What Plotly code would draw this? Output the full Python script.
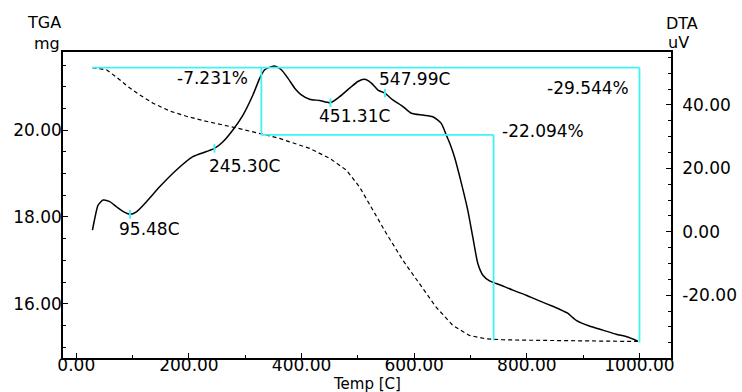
import plotly.graph_objects as go

# ---------------- data ----------------
# TGA (dashed, left axis, mg)
tga_temp = [28.7, 53.6, 74.2, 92, 112.7, 136.3, 166, 195.6, 225, 254.7, 284.3, 313.8,
            328.6, 343.4, 361, 378.9, 414.4, 449.9, 479.5, 503, 526.7, 550.5, 580,
            609.6, 639, 668.7, 698, 728, 757.4, 800, 850, 900, 950, 997]
tga_mg = [21.44, 21.39, 21.19, 21.00, 20.81, 20.62, 20.44, 20.32, 20.22, 20.14, 20.05, 19.96,
          19.91, 19.86, 19.81, 19.73, 19.58, 19.35, 19.08, 18.69, 18.15, 17.62, 17.00,
          16.46, 15.92, 15.50, 15.27, 15.19, 15.17, 15.16, 15.15, 15.15, 15.14, 15.13]

# DTA (solid, right axis, uV)
dta_temp = [28.7, 32.8, 38.7, 47.6, 59.4, 71.3, 86, 95.5, 106.8, 124.6, 148, 177.8, 207, 231,
            245.3, 260.5, 278, 296, 313.8, 325.6, 334.5, 346.4, 352, 364, 376, 387.8, 399.6,
            414.4, 432, 451.3, 467.6, 485.4, 500, 512, 523.9, 535.6, 548, 562, 580, 594.9,
            615.5, 633, 648, 657, 664, 671.7, 683.5, 695, 704, 713, 722, 733.8, 745.7, 757.4,
            775, 799, 822.5, 846, 865, 872, 887.6, 911, 935, 958.7, 979, 997]
dta_uv = [0.5, 4.2, 8.4, 10.0, 9.5, 7.9, 6.1, 5.5, 6.3, 9.5, 14.2, 19.5, 23.7, 25.3,
          26.3, 28.4, 32.1, 36.8, 43.2, 48.4, 51.1, 52.1, 52.3, 51.1, 48.4, 45.3, 43.2,
          41.8, 41.4, 40.7, 42.6, 45.3, 47.4, 48.1, 46.9, 44.7, 43.7, 41.6, 39.5, 37.4,
          36.8, 36.3, 34.2, 30.5, 27.5, 23.5, 15.5, 6.9, -1.6, -10.0, -13.7, -15.5, -16.3, -17.1,
          -18.4, -20.0, -21.8, -23.5, -25.0, -25.6, -27.9, -29.7, -31.0, -32.3, -33.2, -34.5]

# DTA peak marks
peak_temp = [95.48, 245.30, 451.31, 547.99]
peak_uv = [5.5, 26.3, 40.7, 43.7]
peak_text = ["95.48C", "245.30C", "451.31C", "547.99C"]

# Weight-loss steps
w0 = 21.44
step_temps = [28.0, 328.6, 741.0, 1000.0]
step_pct = [7.231, 22.094, 29.544]
pct_text = ["-7.231%", "-22.094%", "-29.544%"]
pct_pos_temp = [242, 829, 909]
pct_pos_mg = [21.19, 19.98, 20.96]

# axes ticks
x_ticks = [0, 200, 400, 600, 800, 1000]
x_ticktext = ["0.00", "200.00", "400.00", "600.00", "800.00", "1000.00"]
y_ticks = [16, 18, 20]
y_ticktext = ["16.00", "18.00", "20.00"]
y2_ticks = [-20, 0, 20, 40]
y2_ticktext = ["-20.00", "0.00", "20.00", "40.00"]

FONT = "DejaVu Sans"
CYAN = "#3FF3F3"
AX = "black"

fig = go.Figure()

fig.add_trace(go.Scatter(x=tga_temp, y=tga_mg, mode="lines",
                         line=dict(color="black", width=1.2, dash="4px,3px"),
                         yaxis="y", showlegend=False, hoverinfo="skip"))
fig.add_trace(go.Scatter(x=dta_temp, y=dta_uv, mode="lines",
                         line=dict(color="black", width=1.5, shape="spline", smoothing=0.6),
                         yaxis="y2", showlegend=False, hoverinfo="skip"))
fig.add_trace(go.Scatter(x=peak_temp, y=peak_uv, mode="markers",
                         marker=dict(symbol="line-ns-open", size=6, color=CYAN,
                                     line=dict(color=CYAN, width=2)),
                         yaxis="y2", showlegend=False, hoverinfo="skip"))

# step lines
w1 = w0 * (1 - step_pct[0] / 100)
w2 = w1 - w0 * step_pct[1] / 100
w3 = w0 * (1 - step_pct[2] / 100)
segs = [
    (step_temps[0], w0, step_temps[3], w0),
    (step_temps[1], w0, step_temps[1], w1),
    (step_temps[1], w1, step_temps[2], w1),
    (step_temps[2], w1, step_temps[2], w2),
    (step_temps[3], w0, step_temps[3], w3),
]
for x0, y0, x1, y1 in segs:
    fig.add_shape(type="line", xref="x", yref="y", x0=x0, y0=y0, x1=x1, y1=y1,
                  line=dict(color=CYAN, width=1.8))

# peak labels
offsets = [(19, -15), (30, -18), (24, -13), (30, 14)]
for t, v, s, (dx, dy) in zip(peak_temp, peak_uv, peak_text, offsets):
    fig.add_annotation(x=t, y=v, xref="x", yref="y2", text=s, showarrow=False,
                       xshift=dx, yshift=dy, font=dict(family=FONT, size=17, color="black"))

for t, m, s in zip(pct_pos_temp, pct_pos_mg, pct_text):
    fig.add_annotation(x=t, y=m, xref="x", yref="y", text=s, showarrow=False,
                       font=dict(family=FONT, size=17, color="black"))

# axis titles
def title(text, x, xanchor, xshift, yshift, size=16):
    fig.add_annotation(x=x, y=1, xref="paper", yref="paper", text=text, showarrow=False,
                       xanchor=xanchor, yanchor="middle", xshift=xshift, yshift=yshift,
                       font=dict(family=FONT, size=size, color="black"))

title("TGA", 0, "right", 0, 30)
title("mg", 0, "right", -1, 9)
title("DTA", 1, "left", -7, 29)
title("uV", 1, "left", -5, 10)
fig.add_annotation(x=0.5, y=0, xref="paper", yref="paper", text="Temp [C]", showarrow=False,
                   xanchor="center", yanchor="top", yshift=-15,
                   font=dict(family=FONT, size=15, color="black"))

axis_common = dict(showgrid=False, zeroline=False, showline=True, linecolor=AX,
                   linewidth=1.5, ticks="inside", ticklen=5, tickcolor=AX, tickwidth=1,
                   automargin=False, layer="above traces",
                   tickfont=dict(family=FONT, size=17, color="black"))

fig.update_layout(
    width=742, height=392,
    margin=dict(l=63, r=71, t=52, b=34),
    paper_bgcolor="white", plot_bgcolor="white",
    xaxis=dict(range=[-23.6, 1056], tickvals=x_ticks, ticktext=x_ticktext, mirror=True,
               ticklabelstandoff=-9,
               minor=dict(dtick=100, tick0=0, ticks="inside", ticklen=3, tickcolor=AX),
               **axis_common),
    yaxis=dict(range=[14.75, 21.80], tickvals=y_ticks, ticktext=y_ticktext,
               ticklabelstandoff=-4,
               minor=dict(dtick=0.5, tick0=0, ticks="inside", ticklen=3, tickcolor=AX),
               **axis_common),
    yaxis2=dict(range=[-39.8, 56.7], tickvals=y2_ticks, ticktext=y2_ticktext,
                overlaying="y", side="right", ticklabelstandoff=6,
                minor=dict(dtick=5, tick0=0, ticks="inside", ticklen=3, tickcolor=AX),
                **axis_common),
)

fig.write_html("out.html")
